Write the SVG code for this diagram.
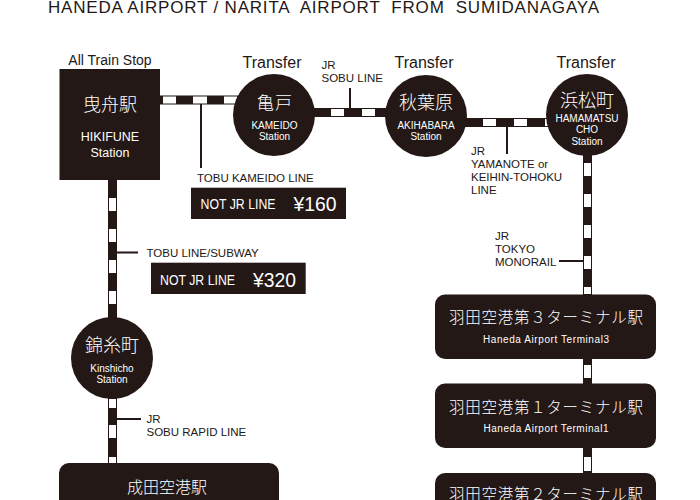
<svg xmlns="http://www.w3.org/2000/svg" width="700" height="500" viewBox="0 0 700 500">
<style>
text{font-family:"Liberation Sans","Noto Sans CJK JP",sans-serif;fill:#231815}
.w{fill:#fff;text-anchor:middle}
.j{font-family:"Noto Sans CJK JP",sans-serif;font-weight:300}
.d{fill:#231815}
.rail{stroke:#231815;stroke-width:9;fill:none}
.gap{stroke:#fff;stroke-width:7;fill:none}
.tick{stroke:#231815;stroke-width:2;fill:none}
.l{font-size:11.500px}
.t{font-size:16px}
.s{font-size:10px}
.c{font-family:"Liberation Sans",sans-serif;font-size:14px;fill:#fff}
.y{font-family:"Liberation Sans",sans-serif;font-size:21px;fill:#fff}
</style>
<rect width="700" height="500" fill="#fff"/>
<text x="48" y="12.500" font-size="17" textLength="551" style="white-space:pre">HANEDA AIRPORT / NARITA  AIRPORT  FROM  SUMIDANAGAYA</text>
<g id="connectors">
<path class="rail" d="M160 100H240M310 112.500H392M460 122.500H552M587.500 150V300M587.500 355V390M587.500 445V480M112.500 175V325M112.500 395V468"/>
<path class="gap" d="M163 100H176M193 100H207M224 100H237M331 112.500H344M362 112.500H375M483 122.500H496M514 122.500H527M545 122.500H549"/>
<path class="gap" d="M587.500 163V176M587.500 194V207M587.500 225V238M587.500 256V269M587.500 287V294M587.500 365V378M587.500 457V471M112.500 198V211M112.500 229V242M112.500 260V273M112.500 291V304M112.500 399V408M112.500 425V438M112.500 457V463"/>
<path class="tick" d="M201 104V168M350 88V108M507 127V154M559 261H583M117 252.500H138M117 419H141"/>
</g>
<g id="hikifune"><rect class="d" x="59.500" y="69" width="100.500" height="111"/>
<text x="110" y="64.500" text-anchor="middle" font-size="14">All Train Stop</text>
<text class="w j" x="110" y="111" font-size="18" textLength="54">曳舟駅</text>
<text class="w" x="110" y="140.500" font-size="12.500">HIKIFUNE</text>
<text class="w" x="110" y="156.500" font-size="12.500">Station</text></g>
<g id="kameido"><circle class="d" cx="274" cy="115" r="41"/>
<text x="272" y="68" text-anchor="middle" class="t">Transfer</text>
<text class="w j" x="274.500" y="109" font-size="17" textLength="35">亀戸</text>
<text class="w s" x="274.500" y="129">KAMEIDO</text>
<text class="w s" x="274.500" y="140">Station</text></g>
<g id="akihabara"><circle class="d" cx="426" cy="116" r="41"/>
<text x="424" y="67.500" text-anchor="middle" class="t">Transfer</text>
<text class="w j" x="426" y="109" font-size="18" textLength="54">秋葉原</text>
<text class="w s" x="426" y="128.500">AKIHABARA</text>
<text class="w s" x="426" y="140">Station</text></g>
<g id="hamamatsucho"><circle class="d" cx="587" cy="115" r="41"/>
<text x="586" y="67.500" text-anchor="middle" class="t">Transfer</text>
<text class="w j" x="587" y="106.500" font-size="18" textLength="54">浜松町</text>
<text class="w s" x="587" y="121.500">HAMAMATSU</text>
<text class="w s" x="587" y="133">CHO</text>
<text class="w s" x="587" y="145">Station</text></g>
<g id="kinshicho"><circle class="d" cx="112" cy="358" r="41"/>
<text class="w j" x="112" y="352" font-size="18" textLength="54">錦糸町</text>
<text class="w s" x="112" y="371.500">Kinshicho</text>
<text class="w s" x="112" y="383">Station</text></g>
<g id="narita"><rect class="d" x="59" y="463" width="220" height="60" rx="10"/>
<text class="w j" x="167" y="492.500" font-size="16" textLength="80">成田空港駅</text></g>
<g id="terminal3"><rect class="d" x="435" y="294.500" width="221" height="64.500" rx="10"/>
<text class="w j" x="546" y="322.500" font-size="15.500" textLength="194">羽田空港第３ターミナル駅</text>
<text class="w s" x="546" y="342.500" textLength="126">Haneda Airport Terminal3</text></g>
<g id="terminal1"><rect class="d" x="435" y="383.500" width="221" height="64.500" rx="10"/>
<text class="w j" x="546" y="412.500" font-size="15.500" textLength="194">羽田空港第１ターミナル駅</text>
<text class="w s" x="546" y="431.500" textLength="125">Haneda Airport Terminal1</text></g>
<g id="terminal2"><rect class="d" x="435" y="473" width="221" height="60" rx="10"/>
<text class="w j" x="546" y="500" font-size="15.500" textLength="194">羽田空港第２ターミナル駅</text></g>
<g id="fare160"><rect class="d" x="191" y="187.700" width="155" height="31.300"/>
<text class="c" x="200.500" y="209" textLength="75" lengthAdjust="spacingAndGlyphs">NOT JR LINE</text>
<text class="y" x="293.500" y="211" textLength="43" lengthAdjust="spacingAndGlyphs">¥160</text></g>
<g id="fare320"><rect class="d" x="151" y="262.700" width="154.700" height="31.300"/>
<text class="c" x="160" y="285" textLength="75" lengthAdjust="spacingAndGlyphs">NOT JR LINE</text>
<text class="y" x="253" y="287" textLength="43" lengthAdjust="spacingAndGlyphs">¥320</text></g>
<g id="labels">
<text class="l" x="197" y="182">TOBU KAMEIDO LINE</text>
<text class="l" x="321.500" y="69">JR</text>
<text class="l" x="321.500" y="82">SOBU LINE</text>
<text class="l" x="471" y="155">JR</text>
<text class="l" x="471" y="168">YAMANOTE or</text>
<text class="l" x="471" y="181">KEIHIN-TOHOKU</text>
<text class="l" x="471" y="193.500">LINE</text>
<text class="l" x="495" y="240">JR</text>
<text class="l" x="495" y="253">TOKYO</text>
<text class="l" x="495" y="266">MONORAIL</text>
<text class="l" x="146.500" y="256.500">TOBU LINE/SUBWAY</text>
<text class="l" x="146.500" y="423">JR</text>
<text class="l" x="146.500" y="435.500">SOBU RAPID LINE</text>
</g>
</svg>
